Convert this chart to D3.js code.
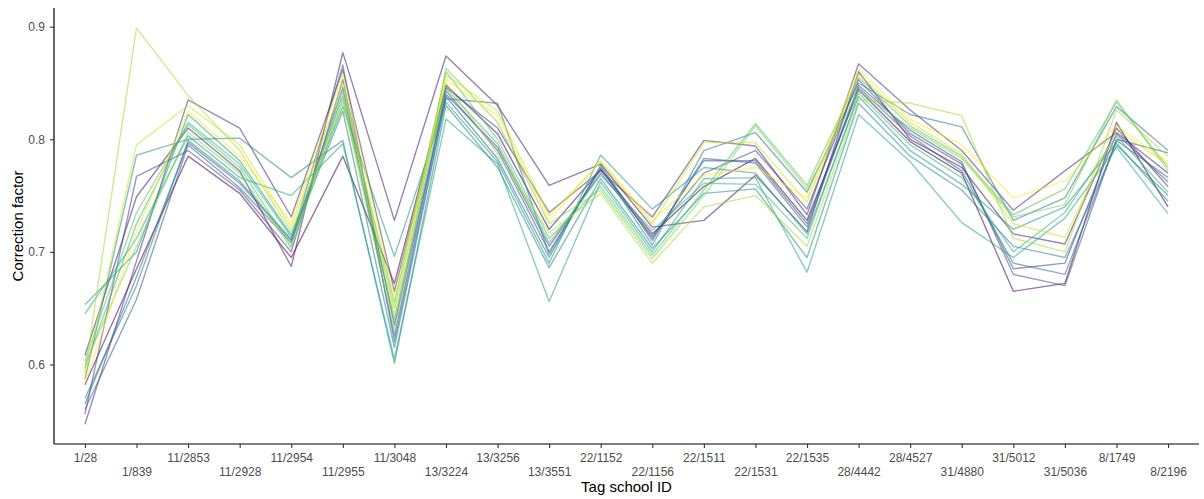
<!DOCTYPE html>
<html>
<head>
<meta charset="utf-8">
<script src="https://cdn.jsdelivr.net/npm/d3@7"></script>
<style>
  html, body { margin: 0; padding: 0; background: #fff; }
  svg { display: block; font-family: "Liberation Sans", Arial, sans-serif; }
</style>
</head>
<body>
<svg id="chart" width="1204" height="499"></svg>
<script>
const categories = ["1/28","1/839","11/2853","11/2928","11/2954","11/2955","11/3048","13/3224","13/3256","13/3551","22/1152","22/1156","22/1511","22/1531","22/1535","28/4442","28/4527","31/4880","31/5012","31/5036","8/1749","8/2196"];
const yTicks = [0.6, 0.7, 0.8, 0.9];

const s01 = [.582,.685,.785,.752,.695,.785,.672,.848,.805,.720,.773,.716,.758,.783,.728,.844,.798,.770,.665,.672,.815,.740];
const s02 = [.608,.749,.810,.772,.687,.877,.728,.874,.830,.759,.778,.722,.728,.768,.718,.860,.800,.775,.716,.707,.810,.758];
const s03 = [.547,.692,.835,.810,.731,.862,.665,.846,.810,.735,.772,.731,.799,.794,.733,.867,.826,.790,.737,.772,.806,.770];
const s04 = [.556,.767,.790,.755,.700,.853,.635,.840,.793,.705,.770,.714,.770,.790,.738,.853,.805,.778,.685,.690,.805,.762];
const s05 = [.560,.658,.795,.757,.708,.846,.625,.843,.790,.700,.774,.712,.781,.781,.725,.848,.808,.780,.680,.670,.800,.788];
const s06 = [.565,.678,.797,.761,.710,.866,.620,.838,.783,.695,.777,.710,.783,.779,.722,.846,.803,.772,.690,.680,.799,.766];
const s07 = [.570,.670,.799,.763,.711,.825,.615,.836,.832,.698,.775,.706,.790,.806,.753,.850,.822,.811,.728,.748,.829,.790];
const s08 = [.587,.786,.800,.801,.766,.799,.601,.830,.775,.686,.765,.703,.752,.756,.695,.832,.785,.755,.705,.695,.795,.750];
const s09 = [.653,.700,.822,.781,.715,.829,.696,.833,.780,.690,.786,.738,.775,.770,.716,.838,.790,.760,.720,.740,.797,.745];
const s10 = [.645,.712,.803,.766,.750,.796,.605,.818,.778,.656,.762,.700,.765,.766,.682,.822,.780,.726,.695,.730,.793,.734];
const s11 = [.597,.725,.815,.778,.713,.838,.640,.845,.796,.708,.768,.719,.761,.760,.712,.841,.795,.766,.700,.735,.803,.753];
const s12 = [.603,.735,.813,.775,.705,.842,.655,.860,.800,.712,.758,.697,.755,.814,.759,.855,.812,.785,.733,.756,.833,.775];
const s13 = [.600,.705,.806,.770,.703,.835,.630,.863,.815,.725,.755,.694,.750,.812,.756,.843,.810,.783,.731,.742,.835,.772];
const s14 = [.593,.899,.839,.790,.718,.832,.650,.850,.787,.717,.752,.690,.740,.750,.705,.835,.832,.821,.712,.700,.826,.785];
const s15 = [.590,.795,.830,.795,.722,.850,.645,.857,.825,.732,.780,.725,.797,.797,.744,.858,.815,.787,.725,.713,.808,.778];
const s16 = [.584,.718,.825,.785,.726,.858,.660,.853,.821,.728,.781,.728,.768,.775,.748,.862,.818,.795,.748,.763,.812,.780];

const seriesList = [s01,s02,s03,s04,s05,s06,s07,s08,s09,s10,s11,s12,s13,s14,s15,s16];

const svg = d3.select("#chart");
const mLeft = 54, mRight = 1199, mTop = 8, mBottom = 444;

const x = d3.scalePoint().domain(categories).range([mLeft, mRight]).padding(0.6);
const allVals = seriesList.flat();
const yMin = d3.min(allVals), yMax = d3.max(allVals);
const pad = (yMax - yMin) * 0.05;
const y = d3.scaleLinear().domain([yMin - pad, yMax + pad]).range([mBottom, mTop]);

const color = d3.scaleSequential(d3.interpolateViridis).domain([0, seriesList.length - 1]);

const line = d3.line().x((d, i) => x(categories[i])).y(d => y(d));

svg.append("g").selectAll("path").data(seriesList).join("path")
  .attr("d", line)
  .attr("fill", "none")
  .attr("stroke", (d, i) => color(i))
  .attr("stroke-opacity", 0.55)
  .attr("stroke-width", 1.4)
  .attr("stroke-linejoin", "round");

// Y axis
const yAxis = svg.append("g").attr("transform", `translate(${mLeft},0)`)
  .call(d3.axisLeft(y).tickValues(yTicks).tickFormat(d3.format(".1f")).tickSize(4).tickPadding(5));
yAxis.select(".domain").attr("stroke", "#000").attr("stroke-width", 1.2).attr("d", `M0,${mTop}V${mBottom}`);
yAxis.selectAll(".tick line").attr("stroke", "#333").attr("stroke-width", 1.1);
yAxis.selectAll(".tick text").attr("fill", "#4d4d4d").style("font-size", "12px");

// X axis
const xAxis = svg.append("g").attr("transform", `translate(0,${mBottom})`)
  .call(d3.axisBottom(x).tickSize(4).tickPadding(5));
xAxis.select(".domain").attr("stroke", "#000").attr("stroke-width", 1.2).attr("d", `M${mLeft},0H${mRight}`);
xAxis.selectAll(".tick line").attr("stroke", "#333").attr("stroke-width", 1.1);
xAxis.selectAll(".tick text").attr("fill", "#4d4d4d").style("font-size", "12px")
  .attr("dy", (d, i) => i % 2 === 0 ? "0.71em" : "1.88em");

// Axis titles
svg.append("text")
  .attr("x", (mLeft + mRight) / 2).attr("y", 492)
  .attr("text-anchor", "middle").attr("fill", "#000").style("font-size", "15px")
  .text("Tag school ID");
svg.append("text")
  .attr("transform", `translate(23,${(mTop + mBottom) / 2}) rotate(-90)`)
  .attr("text-anchor", "middle").attr("fill", "#000").style("font-size", "15px")
  .text("Correction factor");
</script>
</body>
</html>
